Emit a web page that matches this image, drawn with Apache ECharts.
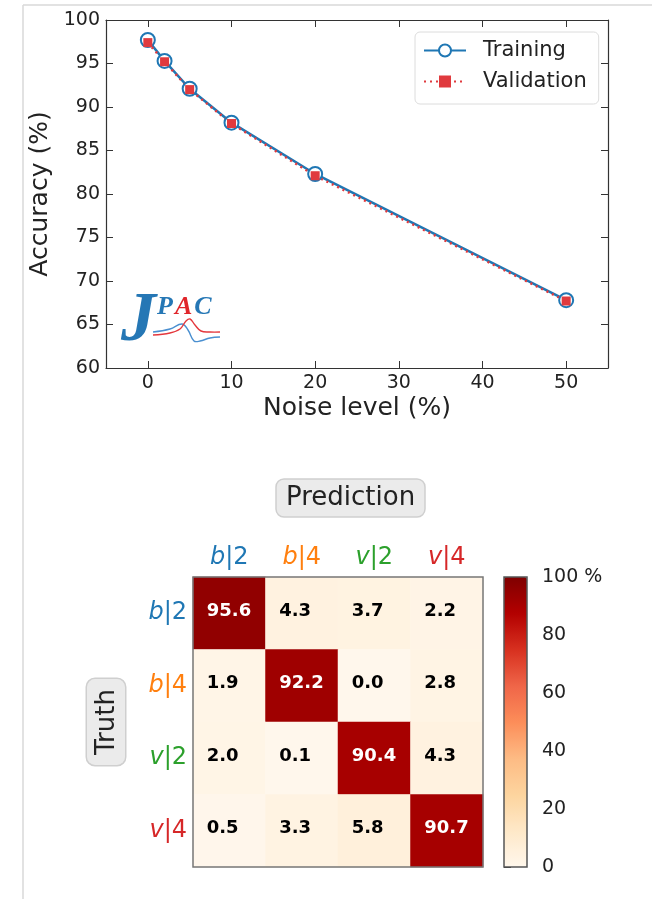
<!DOCTYPE html>
<html>
<head>
<meta charset="utf-8">
<script src="https://cdn.jsdelivr.net/npm/echarts@6/dist/echarts.min.js"></script>
<style>
  html, body { margin: 0; padding: 0; background: #fff; }
  #main { width: 652px; height: 899px; }
</style>
</head>
<body>
<div id="main"></div>
<script>
// ---- data ----
const noiseLevels = [0, 2, 5, 10, 20, 50];
const trainingAcc = [97.7, 95.3, 92.1, 88.2, 82.3, 67.8];
const validationAcc = [97.4, 95.2, 92.0, 88.1, 82.1, 67.7];
const xTicks = [0, 10, 20, 30, 40, 50];

const classes = ['b|2', 'b|4', 'v|2', 'v|4'];
const classColors = ['#1f77b4', '#ff7f0e', '#2ca02c', '#d62728'];
// rows = truth, cols = prediction
const confusion = [
  [95.6, 4.3, 3.7, 2.2],
  [1.9, 92.2, 0.0, 2.8],
  [2.0, 0.1, 90.4, 4.3],
  [0.5, 3.3, 5.8, 90.7]
];
const colorbarTicks = [0, 20, 40, 60, 80, 100];

const orrd = ['#fff7ec', '#fee8c8', '#fdd49e', '#fdbb84', '#fc8d59', '#ef6548', '#d7301f', '#b30000', '#7f0000'];
const font = 'DejaVu Sans';

const heatData = [];
confusion.forEach((row, r) => {
  row.forEach((v, c) => {
    heatData.push({ value: [c, r, v], label: { color: v > 50 ? '#fff' : '#000' } });
  });
});

// rich labels like "b|2" with italic letter
const rich = {};
classes.forEach((name, i) => {
  rich['i' + i] = { fontStyle: 'italic', color: classColors[i], fontSize: 24, fontFamily: font };
  rich['n' + i] = { color: classColors[i], fontSize: 24, fontFamily: font };
});
const classLabel = (val) => {
  const i = classes.indexOf(val);
  return '{i' + i + '|' + val.charAt(0) + '}{n' + i + '|' + val.slice(1) + '}';
};

const axisCol = '#333';
const tickFont = { fontSize: 19, color: '#222', fontFamily: font };

const myChart = echarts.init(document.getElementById('main'));
const option = {
  animation: false,
  textStyle: { fontFamily: font },
  title: {
    text: 'Prediction',
    left: 276,
    top: 479,
    padding: [6, 10, 6, 10],
    backgroundColor: '#ebebeb',
    borderColor: '#cfcfcf',
    borderWidth: 1.5,
    borderRadius: 8,
    textStyle: { fontSize: 26, fontWeight: 'normal', color: '#222', fontFamily: font }
  },
  legend: {
    orient: 'vertical',
    left: 415,
    top: 32,
    padding: [8, 12, 12, 8],
    itemWidth: 42,
    itemHeight: 15,
    itemGap: 10,
    borderColor: '#dcdcdc',
    borderWidth: 1,
    borderRadius: 5,
    backgroundColor: 'rgba(255,255,255,0.85)',
    textStyle: { fontSize: 21, color: '#222', fontFamily: font, lineHeight: 21, padding: [0, 0, 0, 12] },
    data: ['Training', 'Validation']
  },
  grid: [
    { left: 106, top: 20, width: 502, height: 348 },
    { left: 193, top: 577, width: 290, height: 290, show: true, borderColor: '#777', borderWidth: 1.5, z: 5 },
    { left: 504, top: 577, width: 23, height: 290, show: true, borderColor: '#555', borderWidth: 1.5, z: 10, backgroundColor: 'transparent' }
  ],
  xAxis: [
    {
      gridIndex: 0, type: 'value', min: -5, max: 55,
      name: 'Noise level (%)', nameLocation: 'middle', nameGap: 28,
      nameTextStyle: { fontSize: 25, color: '#222', fontFamily: font },
      axisLine: { onZero: false, lineStyle: { color: axisCol, width: 1.2 } },
      axisTick: { inside: true, length: 7, customValues: xTicks, lineStyle: { color: axisCol } },
      axisLabel: { customValues: xTicks, margin: 6, ...tickFont },
      splitLine: { show: false }
    },
    {
      gridIndex: 0, type: 'value', min: -5, max: 55, position: 'top',
      axisLine: { onZero: false, lineStyle: { color: axisCol, width: 1.2 } },
      axisTick: { inside: true, length: 7, customValues: xTicks, lineStyle: { color: axisCol } },
      axisLabel: { show: false },
      splitLine: { show: false }
    },
    {
      gridIndex: 1, type: 'category', data: classes, position: 'top',
      axisLine: { show: false }, axisTick: { show: false },
      axisLabel: { interval: 0, margin: 7, formatter: classLabel, rich: rich },
      splitLine: { show: false }
    },
    {
      gridIndex: 2, type: 'value', show: false
    }
  ],
  yAxis: [
    {
      gridIndex: 0, type: 'value', min: 60, max: 100, interval: 5,
      name: 'Accuracy (%)', nameLocation: 'middle', nameGap: 50,
      nameTextStyle: { fontSize: 25, color: '#222', fontFamily: font },
      axisLine: { show: true, onZero: false, lineStyle: { color: axisCol, width: 1.2 } },
      axisTick: { show: true, inside: true, length: 7, lineStyle: { color: axisCol } },
      axisLabel: { margin: 6, ...tickFont },
      splitLine: { show: false }
    },
    {
      gridIndex: 0, type: 'value', min: 60, max: 100, interval: 5, position: 'right',
      axisLine: { show: true, onZero: false, lineStyle: { color: axisCol, width: 1.2 } },
      axisTick: { show: true, inside: true, length: 7, lineStyle: { color: axisCol } },
      axisLabel: { show: false },
      splitLine: { show: false }
    },
    {
      gridIndex: 1, type: 'category', data: classes, inverse: true,
      name: 'Truth', nameLocation: 'middle', nameGap: 68, nameRotate: 90,
      nameTextStyle: {
        fontSize: 26, color: '#222', fontFamily: font,
        backgroundColor: '#ebebeb', borderColor: '#cfcfcf', borderWidth: 1.5,
        borderRadius: 8, padding: [7, 10, 5, 10]
      },
      axisLine: { show: false }, axisTick: { show: false },
      axisLabel: { interval: 0, margin: 6, formatter: classLabel, rich: rich },
      splitLine: { show: false }
    },
    {
      gridIndex: 2, type: 'value', min: 0, max: 100, interval: 20, position: 'right',
      axisLine: { show: false },
      axisTick: { show: true, inside: false, length: 7, lineStyle: { color: '#333' } },
      axisLabel: { margin: 15, ...tickFont, formatter: v => (v === 100 ? '100 %' : String(v)) },
      splitLine: { show: false }
    }
  ],
  visualMap: {
    type: 'continuous',
    seriesIndex: 2,
    min: 0,
    max: 100,
    calculable: false,
    realtime: false,
    left: 504,
    top: 577,
    itemWidth: 23,
    itemHeight: 290,
    padding: 0,
    text: null,
    showLabel: false,
    inRange: { color: orrd }
  },
  series: [
    {
      name: 'Training',
      type: 'line',
      xAxisIndex: 0, yAxisIndex: 0,
      data: noiseLevels.map((x, i) => [x, trainingAcc[i]]),
      color: '#1f77b4',
      symbol: 'emptyCircle',
      symbolSize: 14,
      lineStyle: { width: 2.5, color: '#1f77b4' },
      itemStyle: { color: '#1f77b4', borderWidth: 3 }
    },
    {
      name: 'Validation',
      type: 'line',
      xAxisIndex: 0, yAxisIndex: 0,
      data: noiseLevels.map((x, i) => [x, validationAcc[i]]),
      color: '#d62728',
      symbol: 'rect',
      symbolSize: 9,
      lineStyle: { width: 2.5, color: '#e03a3e', type: [2, 4] },
      itemStyle: { color: '#e03a3e' },
      z: 3
    },
    {
      name: 'confusion',
      type: 'heatmap',
      xAxisIndex: 2, yAxisIndex: 2,
      data: heatData,
      label: {
        show: true,
        position: 'insideLeft',
        distance: 14,
        offset: [0, -2],
        fontSize: 18,
        fontWeight: 'bold',
        fontFamily: font,
        formatter: p => p.value[2].toFixed(1)
      },
      emphasis: { disabled: true }
    }
  ],
  graphic: [
    // page frame
    { type: 'line', shape: { x1: 23, y1: 5, x2: 652, y2: 5 }, style: { stroke: '#d9d9d9', lineWidth: 1.5 } },
    { type: 'line', shape: { x1: 23, y1: 5, x2: 23, y2: 899 }, style: { stroke: '#d9d9d9', lineWidth: 1.5 } },
    // JPAC logo
    { type: 'text', left: 121, top: 287, z: 20,
      style: { text: 'J', font: 'italic bold 70px "Liberation Serif"', fill: '#2577b5' } },
    { type: 'text', left: 157, top: 294, z: 20,
      style: { text: '{p|P}{a|A}{c|C}', font: 'italic bold 26px "Liberation Serif"',
        rich: {
          p: { fill: '#2577b5', font: 'italic bold 26px "Liberation Serif"', padding: [0, 2, 0, 0] },
          a: { fill: '#e0262b', font: 'italic bold 26px "Liberation Serif"', padding: [0, 2, 0, 0] },
          c: { fill: '#2577b5', font: 'italic bold 26px "Liberation Serif"' }
        } } },
    { type: 'polyline', z: 19, shape: { points: [[153, 332], [170, 329], [182, 324], [188, 330], [194, 341], [200, 341], [210, 338], [220, 337]], smooth: 0.4 },
      style: { stroke: '#4a8fd0', lineWidth: 1.4, fill: null } },
    { type: 'polyline', z: 19, shape: { points: [[153, 335], [170, 333], [180, 329], [186, 321], [190, 319], [195, 325], [201, 331], [210, 332], [220, 332]], smooth: 0.4 },
      style: { stroke: '#e4373c', lineWidth: 1.4, fill: null } }
  ]
};
myChart.setOption(option);
</script>
</body>
</html>
